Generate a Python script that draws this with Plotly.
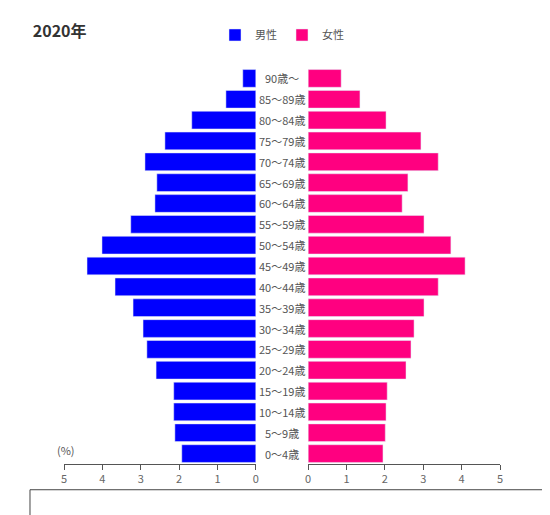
import plotly.graph_objects as go

ages = ["0～4歳", "5～9歳", "10～14歳", "15～19歳", "20～24歳", "25～29歳", "30～34歳",
        "35～39歳", "40～44歳", "45～49歳", "50～54歳", "55～59歳", "60～64歳",
        "65～69歳", "70～74歳", "75～79歳", "80～84歳", "85～89歳", "90歳～"]
male = [1.93, 2.11, 2.14, 2.14, 2.60, 2.84, 2.94, 3.20, 3.67, 4.40, 4.01, 3.26,
        2.63, 2.58, 2.89, 2.37, 1.67, 0.78, 0.34]
female = [1.95, 2.01, 2.03, 2.06, 2.55, 2.68, 2.76, 3.02, 3.39, 4.09, 3.72, 3.02,
          2.45, 2.60, 3.39, 2.94, 2.03, 1.35, 0.86]
ticks = [0, 1, 2, 3, 4, 5]

fig = go.Figure()
fig.add_trace(go.Bar(y=ages, x=male, orientation="h", name="男性",
                     marker_color="#0000ff", xaxis="x", yaxis="y"))
fig.add_trace(go.Bar(y=ages, x=female, orientation="h", name="女性",
                     marker_color="#ff0080", xaxis="x2", yaxis="y"))

axis_style = dict(range=[0, 5], tickvals=ticks, showgrid=False, showline=True,
                  linecolor="#555", ticks="outside", ticklen=5, tickcolor="#555",
                  tickfont=dict(size=11, color="#666"), fixedrange=True)
fig.update_layout(
    width=550, height=515,
    margin=dict(l=56, r=58, t=56, b=59),
    plot_bgcolor="white", paper_bgcolor="white",
    font=dict(family="Noto Sans CJK JP", color="#555"),
    bargap=0.15,
    xaxis=dict(domain=[0, 0.44], autorange=False, **{**axis_style, "range": [5, 0]}),
    xaxis2=dict(domain=[0.56, 1], anchor="y", **axis_style),
    yaxis=dict(showticklabels=False, showgrid=False, showline=False, fixedrange=True),
    showlegend=True,
    legend=dict(orientation="h", x=0.5, xanchor="center", y=1.12, yanchor="top",
                font=dict(size=11), itemwidth=30),
    title=dict(text="<b>2020年</b>", x=0.045, y=0.965, font=dict(size=16, color="#333")),
)
for a in ages:
    fig.add_annotation(x=0.5, xref="paper", y=a, yref="y", text=a, showarrow=False,
                       font=dict(size=11, color="#555"))
fig.add_annotation(x=-0.02, xref="paper", y=0, yref="paper", yshift=4, text="(%)",
                   showarrow=False, font=dict(size=11, color="#555"))
fig.add_shape(type="rect", xref="paper", yref="paper", x0=-0.078, x1=1.11,
              y0=-0.065, y1=-0.14, line=dict(color="#444", width=1))
fig.write_html("out.html")
